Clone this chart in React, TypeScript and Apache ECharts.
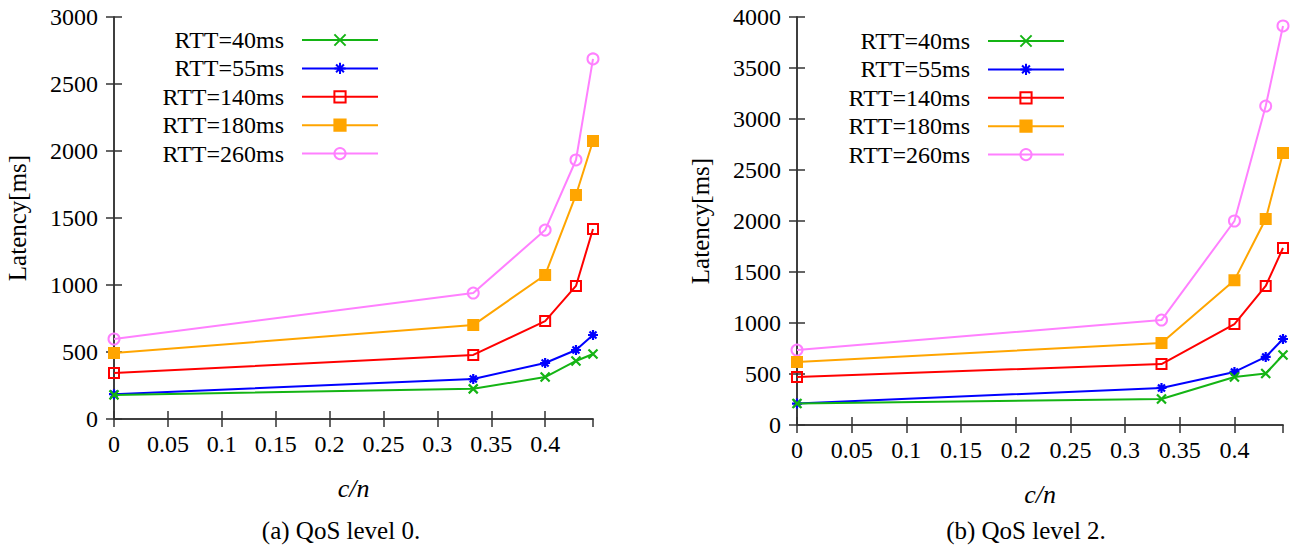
import React, { useEffect, useRef } from "react";
import * as echarts from "echarts";

const cn = [0, 0.3333, 0.4, 0.4286, 0.4444];
const seriesNames = ["RTT=40ms", "RTT=55ms", "RTT=140ms", "RTT=180ms", "RTT=260ms"];

const rtt40Q0 = [180, 225, 313, 433, 485];
const rtt55Q0 = [185, 298, 418, 515, 627];
const rtt140Q0 = [343, 478, 731, 993, 1418];
const rtt180Q0 = [493, 701, 1075, 1672, 2075];
const rtt260Q0 = [597, 940, 1410, 1933, 2687];

const rtt40Q2 = [210, 255, 471, 505, 686];
const rtt55Q2 = [210, 363, 520, 667, 843];
const rtt140Q2 = [471, 598, 990, 1363, 1735];
const rtt180Q2 = [618, 804, 1420, 2020, 2667];
const rtt260Q2 = [735, 1029, 2000, 3127, 3912];

const captions = ["(a) QoS level 0.", "(b) QoS level 2."];
const yTitle = "Latency[ms]";
const xTitle = "c/n";

const FONT = "Liberation Serif";
const AXIS_COLOR = "#333";

const colors = ["#14b414", "#0000ff", "#ff0000", "#ffa500", "#ff80ff"];
const fills = ["#14b414", "#0000ff", "rgba(0,0,0,0)", "#ffa500", "rgba(0,0,0,0)"];
const crossPath = "path://M0,0L10,10M10,0L0,10";
const starPath = "path://M5,0L5,10M0,5L10,5M1.5,1.5L8.5,8.5M8.5,1.5L1.5,8.5";
const symbols = [crossPath, starPath, "rect", "rect", "circle"];
const symbolSizes = [9, 10, 10, 10, 11];

function App() {
  const ref = useRef<HTMLDivElement>(null);
  useEffect(() => {
    if (!ref.current) return;
    const chart = echarts.init(ref.current, null, { renderer: "svg" });
    const grids = [
      { left: 114, top: 17, width: 479, height: 402, yMax: 3000, data: [rtt40Q0, rtt55Q0, rtt140Q0, rtt180Q0, rtt260Q0] },
      { left: 797, top: 17, width: 486, height: 408, yMax: 4000, data: [rtt40Q2, rtt55Q2, rtt140Q2, rtt180Q2, rtt260Q2] },
    ];
    const xAxis: any[] = [];
    const yAxis: any[] = [];
    const series: any[] = [];
    grids.forEach((g, gi) => {
      const xBase = {
        type: "value",
        gridIndex: gi,
        min: 0,
        max: cn[cn.length - 1],
        interval: 0.05,
        splitLine: { show: false },
        axisLine: { show: true, lineStyle: { color: AXIS_COLOR, width: 1.5 } },
        axisTick: { show: true, inside: true, length: 8, lineStyle: { color: AXIS_COLOR, width: 1.5 } },
      };
      xAxis.push({
        ...xBase,
        position: "bottom",
        axisLabel: {
          show: true,
          showMaxLabel: false,
          margin: 13,
          fontSize: 24,
          fontFamily: FONT,
          color: "#000",
          formatter: (v: number) => String(Math.round(v * 100) / 100),
        },
        name: xTitle,
        nameLocation: "middle",
        nameGap: 56,
        nameTextStyle: { fontSize: 26, fontFamily: FONT, fontStyle: "italic", color: "#000" },
      });
      xAxis.push({ ...xBase, position: "top", axisLabel: { show: false } });
      const yBase = {
        type: "value",
        gridIndex: gi,
        min: 0,
        max: g.yMax,
        interval: 500,
        splitLine: { show: false },
        axisLine: { show: true, lineStyle: { color: AXIS_COLOR, width: 1.5 } },
        axisTick: { show: true, inside: true, length: 8, lineStyle: { color: AXIS_COLOR, width: 1.5 } },
      };
      yAxis.push({
        ...yBase,
        position: "left",
        axisLabel: {
          show: true,
          margin: 16,
          fontSize: 24,
          fontFamily: FONT,
          color: "#000",
          formatter: (v: number) => String(v),
        },
        name: yTitle,
        nameLocation: "middle",
        nameGap: 84,
        nameRotate: 90,
        nameTextStyle: { fontSize: 25, fontFamily: FONT, color: "#000" },
      });
      yAxis.push({ ...yBase, position: "right", axisLabel: { show: false } });
      g.data.forEach((vals, si) => {
        series.push({
          type: "line",
          name: seriesNames[si],
          xAxisIndex: gi * 2,
          yAxisIndex: gi * 2,
          data: cn.map((x, i) => [x, vals[i]]),
          symbol: symbols[si],
          symbolSize: symbolSizes[si],
          showAllSymbol: true,
          lineStyle: { color: colors[si], width: 2 },
          itemStyle: {
            color: fills[si],
            borderColor: colors[si],
            borderWidth: si < 2 ? 2.2 : 2,
          },
          z: 10 - si,
        });
      });
    });
    const legendBase = {
      orient: "vertical",
      align: "right",
      padding: 0,
      itemWidth: 76,
      itemHeight: 14,
      itemGap: 4.4,
      selectedMode: false,
      data: seriesNames,
      textStyle: { fontSize: 24, fontFamily: FONT, color: "#000", lineHeight: 24, padding: [0, 13, 0, 0] },
    };
    chart.setOption({
      animation: false,
      backgroundColor: "#fff",
      textStyle: { fontFamily: FONT, fontSize: 24 },
      grid: grids.map((g) => ({ left: g.left, top: g.top, width: g.width, height: g.height })),
      xAxis,
      yAxis,
      legend: [
        { ...legendBase, right: 1296 - 379, top: 28 },
        { ...legendBase, right: 1296 - 1065, top: 29 },
      ],
      series,
      graphic: [
        { type: "text", x: 341, y: 530, style: { text: captions[0], fontSize: 25, fontFamily: FONT, fill: "#000", align: "center", verticalAlign: "middle" } },
        { type: "text", x: 1026, y: 530, style: { text: captions[1], fontSize: 25, fontFamily: FONT, fill: "#000", align: "center", verticalAlign: "middle" } },
      ],
    });
    return () => chart.dispose();
  }, []);
  return <div ref={ref} style={{ position: "absolute", left: 0, top: 0, width: 1296, height: 548 }} />;
}

export default App;
